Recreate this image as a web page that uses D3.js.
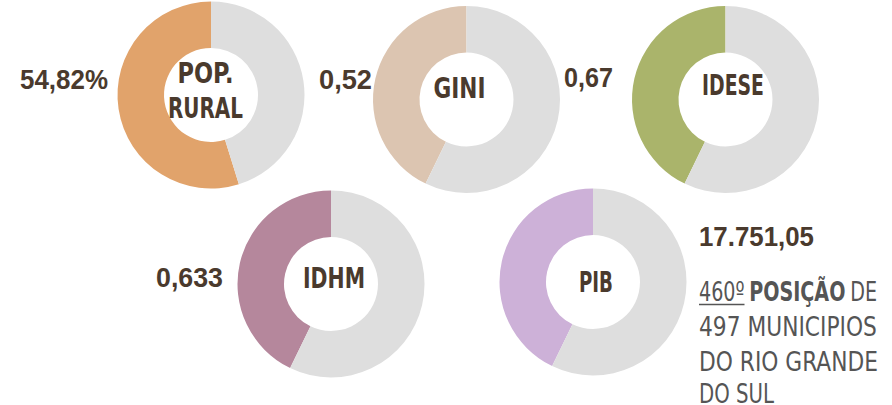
<!DOCTYPE html>
<html>
<head>
<meta charset="utf-8">
<script src="https://cdn.jsdelivr.net/npm/d3@7"></script>
<style>
  html, body { margin: 0; padding: 0; background: #ffffff; }
  svg { display: block; }
</style>
</head>
<body>
<svg id="chart" width="892" height="405"></svg>
<script>
// Indicators shown as rings: name lines, stated value, and the filled share of each ring
const indicatorNames = [["POP.", "RURAL"], ["GINI"], ["IDESE"], ["IDHM"], ["PIB"]];
const indicatorValues = [54.82, 0.52, 0.67, 0.633, 17751.05];
const valueLabels = ["54,82%", "0,52", "0,67", "0,633", "17.751,05"];
const ringShare = [0.5482, 0.428, 0.428, 0.428, 0.428];

// Ranking note under the PIB value
const rankPosition = "460º";
const rankWord = "POSIÇÃO";
const rankLines = ["DE", "497 MUNICIPIOS", "DO RIO GRANDE", "DO SUL"];

// Layout and styles
const fillColors = ["#e1a36b", "#dcc5b1", "#aab46b", "#b5879c", "#cdb1d8"];
const restColor = "#dedede";
const textColor = "#4a3a2d";
const noteColor = "#555555";
const centers = [[211, 95], [466.5, 99.5], [725.5, 99.5], [331, 284], [593, 282]];
const outerR = 93.5, innerR = 47;
const condensed = "'Liberation Sans Narrow', 'DejaVu Sans Condensed', sans-serif";
const regular = "'Liberation Sans', Arial, sans-serif";

const svg = d3.select("#chart");

const angle = d3.scaleLinear().domain([0, 1]).range([0, 2 * Math.PI]);
const arc = d3.arc().innerRadius(innerR).outerRadius(outerR);

const rings = svg.selectAll("g.ring")
  .data(indicatorNames.map((name, i) => ({ name, value: indicatorValues[i], share: ringShare[i], i })))
  .join("g")
  .attr("class", "ring")
  .attr("transform", d => `translate(${centers[d.i][0]},${centers[d.i][1]})`);

// Filled share runs anticlockwise from twelve o'clock, the rest is grey
rings.each(function (d) {
  const g = d3.select(this);
  const pie = d3.pie().sort(null).value(v => v)
    .startAngle(-angle(d.share))
    .endAngle(angle(1) - angle(d.share));
  g.selectAll("path")
    .data(pie([d.share, 1 - d.share]))
    .join("path")
    .attr("d", arc)
    .attr("fill", (s, k) => k === 0 ? fillColors[d.i] : restColor);
});

// Place one line of text at (x, y), squeezed to the given width
function squeezedText(parent, x, y, width, anchor, str, attrs) {
  const g = parent.append("g");
  const t = g.append("text").attr("x", 0).attr("y", 0).attr("text-anchor", anchor).text(str);
  Object.entries(attrs).forEach(([k, v]) => t.attr(k, v));
  const w = t.node().getComputedTextLength();
  g.attr("transform", `translate(${x},${y}) scale(${width / w},1)`);
  return g;
}

// Names inside the rings: offsets from ring centre and target widths
const nameLayout = [
  [[-5.5, -12, 56], [-5.5, 23, 75]],
  [[-7, -1.5, 52]],
  [[7.5, -4.5, 62]],
  [[3, 4, 62]],
  [[3, 10, 34]]
];
const nameStyle = { "font-family": condensed, "font-weight": "bold", "font-size": 28, "fill": textColor };
rings.each(function (d) {
  const g = d3.select(this);
  d.name.forEach((line, k) => {
    const [dx, dy, w] = nameLayout[d.i][k];
    squeezedText(g, dx, dy, w, "middle", line, nameStyle);
  });
});

// Stated values beside the rings
const valueLayout = [[108, 89, 88, "end"], [372, 89, 53, "end"], [613, 87, 49, "end"], [223, 287, 67, "end"], [699, 246, 115, "start"]];
const valueStyle = { "font-family": regular, "font-weight": "bold", "font-size": 28, "fill": textColor };
valueLabels.forEach((v, i) => {
  const [x, y, w, a] = valueLayout[i];
  squeezedText(svg, x, y, w, a, v, valueStyle).attr("class", "value");
});

// Ranking note
const noteX = 699;
const note = svg.append("g").attr("font-family", condensed).attr("font-size", 27).attr("fill", noteColor);

// First line: underlined rank, bold word, then "DE"
const first = note.append("g");
const gap = 6;
const tRank = first.append("text").attr("x", 0).attr("y", 0).text(rankPosition);
const wRank = tRank.node().getComputedTextLength();
const tWord = first.append("text").attr("x", wRank + gap).attr("y", 0).attr("font-weight", "bold").text(rankWord);
const wWord = tWord.node().getComputedTextLength();
const tDe = first.append("text").attr("x", wRank + wWord + 2 * gap).attr("y", 0).text(rankLines[0]);
const wDe = tDe.node().getComputedTextLength();
first.append("line").attr("x1", 0).attr("x2", wRank).attr("y1", 3.5).attr("y2", 3.5)
  .attr("stroke", noteColor).attr("stroke-width", 1.7);
first.attr("transform", `translate(${noteX},301) scale(${178 / (wRank + wWord + wDe + 2 * gap)},1)`);

const lineWidths = [178, 179, 75];
const lineYs = [336, 371, 403];
rankLines.slice(1).forEach((t, k) => {
  squeezedText(note, noteX, lineYs[k], lineWidths[k], "start", t, {});
});
</script>
</body>
</html>
